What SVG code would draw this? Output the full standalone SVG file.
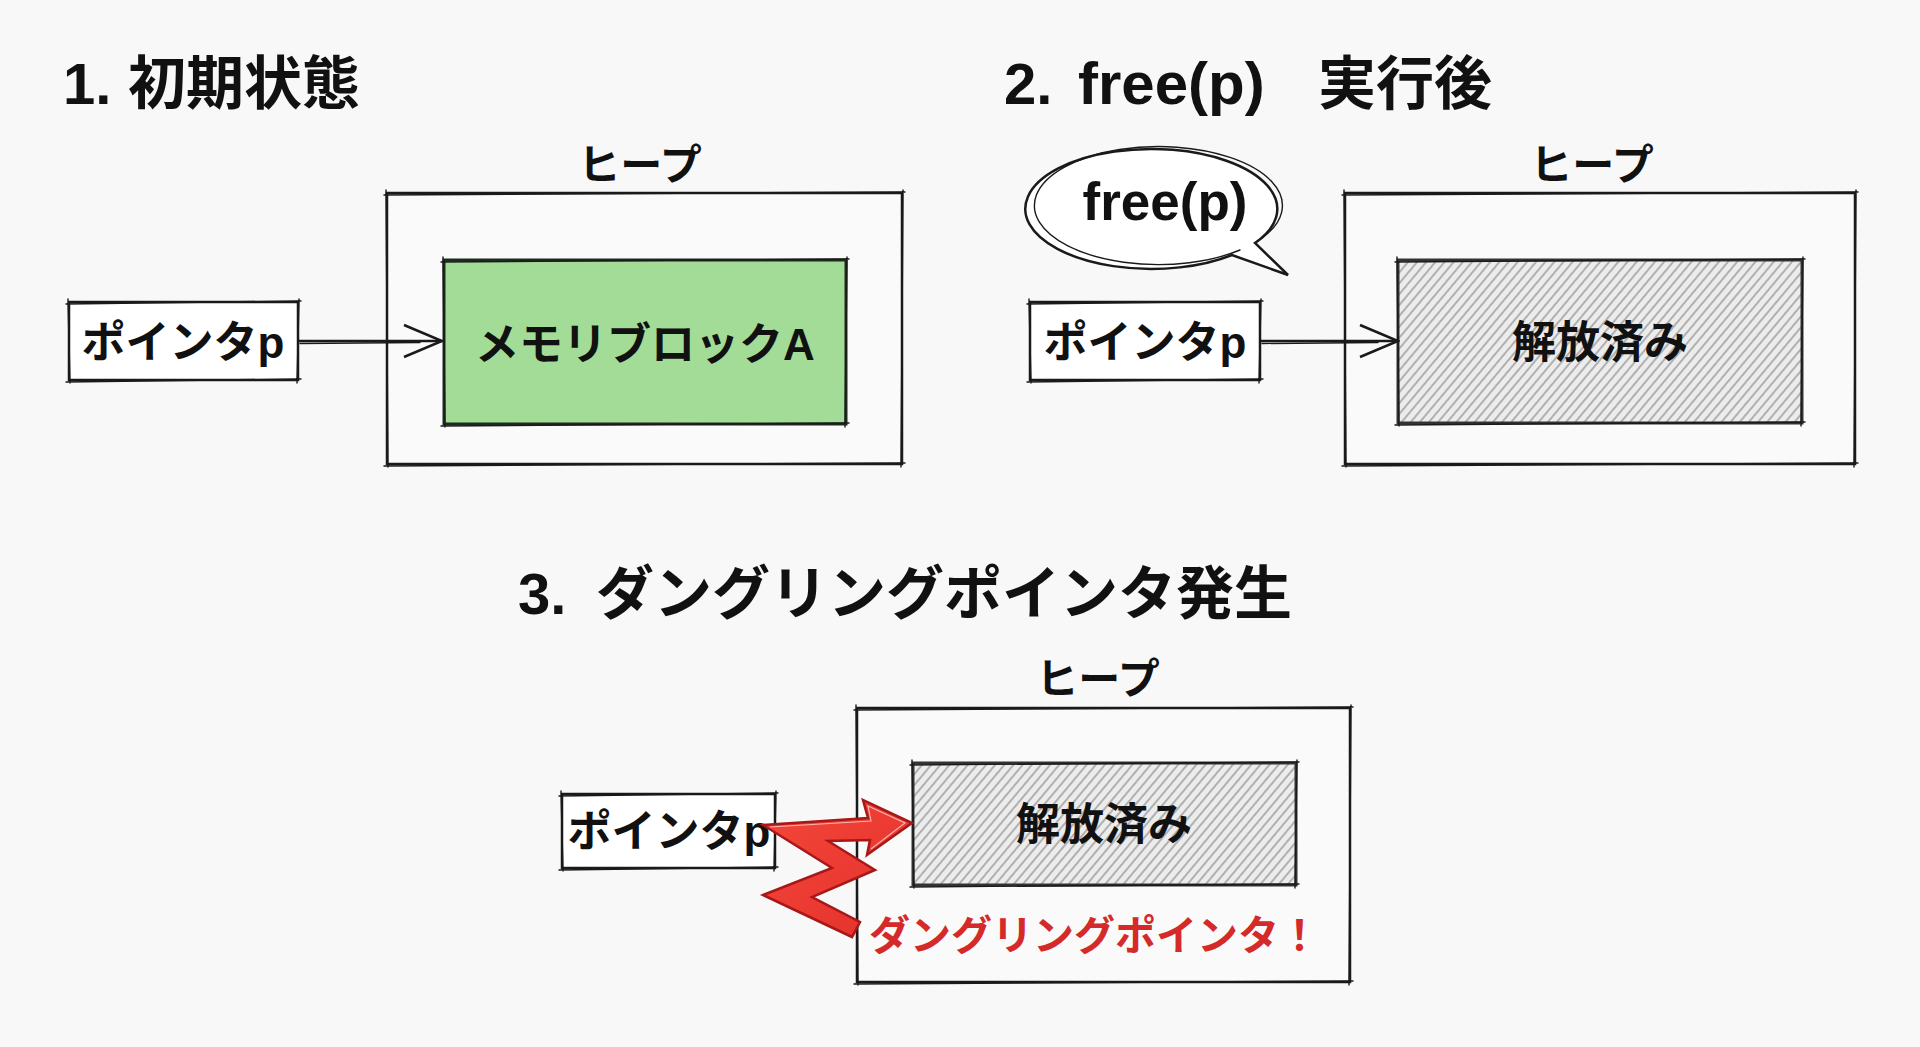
<svg xmlns="http://www.w3.org/2000/svg" width="1920" height="1047" viewBox="0 0 1920 1047">
<style>
.t{font-family:"Liberation Sans","Noto Sans CJK JP",sans-serif;font-weight:700;fill:#111}
.title{font-size:58px}
.lbl{font-size:44px;text-anchor:middle}
.heapl{font-size:42px;text-anchor:middle}
.box{fill:#fafafa;stroke:#1a1a1a;stroke-width:2.5}
.wbox{fill:#fff;stroke:#1a1a1a;stroke-width:2.5}
.sk{fill:none;stroke:#1a1a1a;stroke-width:1.4;stroke-linecap:round}
.green{fill:#a2dc96;stroke:#1f2a1f;stroke-width:3}
.freed{fill:url(#hatch);stroke:#333;stroke-width:3}
.conn{fill:none;stroke:#1a1a1a;stroke-width:2.5}
.red{font-family:"Liberation Sans","Noto Sans CJK JP",sans-serif;font-weight:700;font-size:41px;fill:#d42a2a}
</style>
<defs>
<pattern id="hatch" patternUnits="userSpaceOnUse" width="7" height="7" patternTransform="rotate(40)">
<rect width="7" height="7" fill="#ececec"/>
<line x1="1" y1="0" x2="1" y2="7" stroke="#9c9c9c" stroke-width="1.5"/>
</pattern>
<marker id="open" viewBox="0 0 42 36" markerUnits="userSpaceOnUse" markerWidth="42" markerHeight="36" refX="40" refY="18" orient="auto">
<path d="M2,2 L40,18 L2,34" fill="none" stroke="#1a1a1a" stroke-width="2.5"/>
</marker>
<linearGradient id="redg" x1="0" y1="0" x2="1" y2="1">
<stop offset="0" stop-color="#f5473b"/>
<stop offset="1" stop-color="#e2302a"/>
</linearGradient>
</defs>
<rect width="1920" height="1047" fill="#f8f8f8"/>

<!-- Titles -->
<g id="title1"><text class="t title" x="63" y="104">1.<tspan x="128">初期状態</tspan></text></g>
<g id="title2"><text class="t title" x="1004" y="104">2.<tspan x="1078" font-size="60">free(p)</tspan><tspan x="1318">実行後</tspan></text></g>
<g id="title3"><text class="t title" x="518" y="614">3.<tspan x="596">ダングリングポインタ発生</tspan></text></g>

<!-- Panel 1 -->
<g id="heap1">
<rect class="box" x="387" y="193" width="515" height="271"/>
<path class="sk" d="M384,195 L905,192 M903,190 L901,467 M905,463 L384,466 M388,467 L386,190"/>
<text class="t heapl" x="640" y="180">ヒープ</text>
</g>
<g id="blockA">
<rect class="green" x="444" y="260" width="402" height="164"/>
<path class="sk" d="M441,262 L849,259 M847,257 L845,427 M849,423 L441,426 M445,427 L443,257"/>
<text class="t lbl" x="645" y="360">メモリブロックA</text>
</g>
<g id="ptr1">
<rect class="wbox" x="69" y="302" width="229" height="78"/>
<path class="sk" d="M66,304 L301,301 M299,299 L297,383 M301,379 L66,382 M70,383 L68,299"/>
<text class="t lbl" x="183" y="358">ポインタp</text>
</g>

<!-- Panel 2 -->
<g id="bubble">
<path d="M1232,255 A126,60 0 1,1 1255,243 L1288,275 Z" fill="#fff" stroke="#1a1a1a" stroke-width="2.5" stroke-linejoin="miter"/>
<path class="sk" d="M1240,250 A124,59 0 1,1 1262,238"/>
<text class="t" x="1165" y="220" font-size="53" text-anchor="middle">free(p)</text>
</g>
<g id="heap2">
<rect class="box" x="1345" y="193" width="510" height="271"/>
<path class="sk" d="M1342,195 L1858,192 M1856,190 L1854,467 M1858,463 L1342,466 M1346,467 L1344,190"/>
<text class="t heapl" x="1592" y="180">ヒープ</text>
</g>
<g id="freed2">
<rect class="freed" x="1398" y="260" width="404" height="163"/>
<path class="sk" d="M1395,262 L1805,259 M1803,257 L1801,426 M1805,422 L1395,425 M1399,426 L1397,257"/>
<text class="t lbl" x="1600" y="358" font-size="45">解放済み</text>
</g>
<g id="ptr2">
<rect class="wbox" x="1030" y="302" width="230" height="78"/>
<path class="sk" d="M1027,304 L1263,301 M1261,299 L1259,383 M1263,379 L1027,382 M1031,383 L1029,299"/>
<text class="t lbl" x="1145" y="358">ポインタp</text>
</g>

<!-- Panel 3 -->
<g id="heap3">
<rect class="box" x="857" y="708" width="493" height="274"/>
<path class="sk" d="M854,710 L1353,707 M1351,705 L1349,985 M1353,981 L854,984 M858,985 L856,705"/>
<text class="t heapl" x="1098" y="694">ヒープ</text>
</g>
<g id="freed3">
<rect class="freed" x="913" y="763" width="383" height="122"/>
<path class="sk" d="M910,765 L1299,762 M1297,760 L1295,888 M1299,884 L910,887 M914,888 L912,760"/>
<text class="t lbl" x="1104" y="840">解放済み</text>
</g>
<g id="ptr3">
<rect class="wbox" x="562" y="794" width="213" height="74"/>
<path class="sk" d="M559,796 L778,793 M776,791 L774,871 M778,867 L559,870 M563,871 L561,791"/>
<text class="t lbl" x="669" y="847" font-size="42">ポインタp</text>
</g>
<g id="warning">
<text class="red" x="869" y="950">ダングリングポインタ！</text>
</g>

<!-- Connectors -->
<g id="connectors">
<line class="conn" x1="298" y1="341" x2="442" y2="341" marker-end="url(#open)"/>
<line class="sk" x1="300" y1="343.5" x2="420" y2="342.5"/>
<line class="conn" x1="1260" y1="341" x2="1398" y2="341" marker-end="url(#open)"/>
<line class="sk" x1="1262" y1="343.5" x2="1378" y2="342.5"/>
<path id="dangling" d="M763,825 L868,818 L863,800 L912,823 L867,855 L870,840 L828,841 L875,870 L812,897 L860,922 L852,937 L763,895 L832,868 Z" fill="url(#redg)" stroke="#a81818" stroke-width="2.5" stroke-linejoin="miter"/>
<path d="M770,827 L871,821 L868,806 L905,823 L871,849" fill="none" stroke="#ffd0c8" stroke-width="1.2" opacity="0.8"/>
</g>
</svg>
